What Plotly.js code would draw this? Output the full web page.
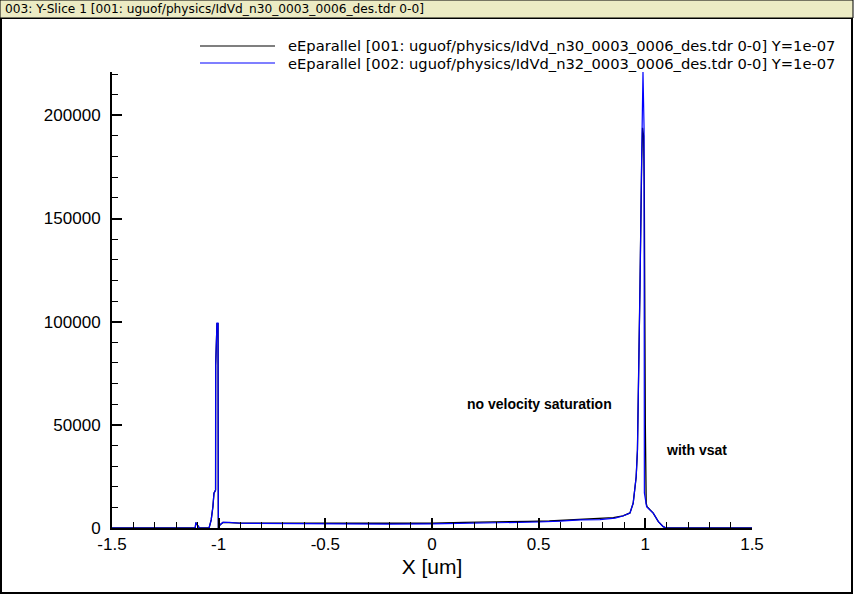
<!DOCTYPE html>
<html>
<head>
<meta charset="utf-8">
<script src="https://cdn.plot.ly/plotly-3.0.1.min.js"></script>
<style>
html,body{margin:0;padding:0;background:#fff;}
#chart{width:854px;height:595px;}
</style>
</head>
<body>
<div id="chart"></div>
<script>
// ---- data ----
var seriesNames = [
  "eEparallel [001: uguof/physics/IdVd_n30_0003_0006_des.tdr 0-0] Y=1e-07",
  "eEparallel [002: uguof/physics/IdVd_n32_0003_0006_des.tdr 0-0] Y=1e-07"
];
var windowTitle = "003: Y-Slice 1 [001: uguof/physics/IdVd_n30_0003_0006_des.tdr 0-0]";

var xBlack = [-1.5, -1.11, -1.107, -1.098, -1.09, -1.045, -1.035, -1.027, -1.022, -1.0145, -1.014, -1.008, -1.003, -1.0015,
  -0.994, -0.98, -0.95, -0.9, -0.6, -0.35, -0.15, 0, 0.15, 0.3, 0.45, 0.55, 0.65, 0.75, 0.85, 0.895, 0.928, 0.943, 0.957,
  0.963, 0.969, 0.975, 0.983, 0.987, 0.992, 0.995, 1.0, 1.004, 1.008, 1.022, 1.037, 1.061, 1.084, 1.097, 1.5];
var yBlack = [0, 0, 2600, 1200, 0, 0, 3900, 10300, 16900, 18400, 78900, 99000, 99000, 0,
  1500, 2700, 2700, 2400, 2300, 2300, 2300, 2300, 2700, 2800, 3200, 3400, 3900, 4300, 5000, 5900, 7300, 12000, 24700,
  37700, 70200, 118000, 178000, 194000, 190000, 166000, 50000, 12000, 10300, 8700, 7200, 3100, 650, 0, 0];

var xBlue = [-1.5, -1.11, -1.107, -1.098, -1.09, -1.045, -1.035, -1.027, -1.022, -1.0145, -1.014, -1.008, -1.003, -1.0015,
  -0.994, -0.98, -0.95, -0.9, -0.8, -0.6, -0.4, -0.2, 0, 0.2, 0.4, 0.5, 0.6, 0.694, 0.7875, 0.858, 0.895, 0.928, 0.943,
  0.957, 0.963, 0.969, 0.975, 0.983, 0.989, 0.994, 0.9955, 1.006, 1.022, 1.037, 1.061, 1.084, 1.097, 1.5];
var yBlue = [0, 0, 2600, 1200, 0, 0, 3900, 10300, 16900, 18400, 78900, 99300, 99300, 0,
  1500, 2700, 2700, 2300, 2200, 2100, 2000, 1900, 2000, 2300, 2700, 2900, 3300, 3900, 4100, 4800, 5800, 7200, 12000,
  24700, 37700, 70200, 116700, 181600, 221000, 194000, 17000, 10300, 8700, 7200, 3100, 650, 0, 0];

var xTickVals = [-1.5, -1, -0.5, 0, 0.5, 1, 1.5];
var xTickText = ["-1.5", "-1", "-0.5", "0", "0.5", "1", "1.5"];
var yTickVals = [0, 50000, 100000, 150000, 200000];
var yTickText = ["0", "50000", "100000", "150000", "200000"];
var noteTexts = ["no velocity saturation", "with vsat"];
var noteX = [0.506, 1.24];
var noteY = [60000, 38000];

// ---- layout helpers (pixel -> paper) ----
var L = 112, R = 752, T = 72, B = 528;
function px(x){ return (x - L) / (R - L); }
function py(y){ return (B - y) / (B - T); }

var traces = [
  {x: xBlack, y: yBlack, type: 'scatter', mode: 'lines', name: seriesNames[0], showlegend: false,
   line: {color: '#000000', width: 1.3}},
  {x: xBlue, y: yBlue, type: 'scatter', mode: 'lines', name: seriesNames[1], showlegend: false,
   line: {color: '#0000ff', width: 1.2}}
];

var tickFont = {family: 'Liberation Sans, Arial, sans-serif', size: 17, color: '#000'};

var layout = {
  width: 854, height: 595,
  margin: {l: L, r: 854 - R, t: T, b: 595 - B, pad: 0},
  paper_bgcolor: '#ffffff', plot_bgcolor: '#ffffff',
  showlegend: false,
  xaxis: {
    range: [-1.5, 1.5], showgrid: false, zeroline: false,
    showline: true, linecolor: '#000', linewidth: 2,
    ticks: 'inside', ticklen: 10, tickwidth: 2, tickcolor: '#000',
    tickvals: xTickVals, ticktext: xTickText, tickfont: tickFont,
    minor: {dtick: 0.1, ticks: 'inside', ticklen: 6, tickwidth: 1, tickcolor: '#000', showgrid: false},
    title: {text: 'X [um]', font: {family: 'Liberation Sans, Arial, sans-serif', size: 21, color: '#000'}, standoff: 6}
  },
  yaxis: {
    range: [0, 221000], showgrid: false, zeroline: false,
    showline: true, linecolor: '#000', linewidth: 2,
    ticks: 'inside', ticklen: 10, tickwidth: 2, tickcolor: '#000',
    tickvals: yTickVals, ticktext: yTickText, tickfont: tickFont,
    minor: {dtick: 10000, ticks: 'inside', ticklen: 6, tickwidth: 1, tickcolor: '#000', showgrid: false},
    ticklabelstandoff: 6
  },
  shapes: [
    // window frame
    {type: 'rect', xref: 'paper', yref: 'paper', x0: px(1), x1: px(852), y0: py(593), y1: py(18),
     line: {color: '#000', width: 2}, fillcolor: 'rgba(0,0,0,0)', layer: 'below'},
    // title bar
    {type: 'rect', xref: 'paper', yref: 'paper', x0: px(0), x1: px(853), y0: py(18), y1: py(0),
     line: {color: '#000', width: 1}, fillcolor: '#ecebc4', layer: 'below'},
    // legend lines
    {type: 'line', xref: 'paper', yref: 'paper', x0: px(200), x1: px(275), y0: py(46), y1: py(46),
     line: {color: '#000000', width: 1.2}},
    {type: 'line', xref: 'paper', yref: 'paper', x0: px(200), x1: px(275), y0: py(63), y1: py(63),
     line: {color: '#0000ff', width: 1.2}}
  ],
  annotations: [
    {xref: 'paper', yref: 'paper', x: px(3), y: py(9), xanchor: 'left', yanchor: 'middle', showarrow: false,
     text: windowTitle, font: {family: 'DejaVu Sans, sans-serif', size: 12.2, color: '#000'}},
    {xref: 'paper', yref: 'paper', x: px(286), y: py(46), xanchor: 'left', yanchor: 'middle', showarrow: false,
     text: seriesNames[0], font: {family: 'DejaVu Sans, sans-serif', size: 14.7, color: '#000'}},
    {xref: 'paper', yref: 'paper', x: px(286), y: py(63), xanchor: 'left', yanchor: 'middle', showarrow: false,
     text: seriesNames[1], font: {family: 'DejaVu Sans, sans-serif', size: 14.7, color: '#000'}},
    {xref: 'x', yref: 'y', x: noteX[0], y: noteY[0], xanchor: 'center', yanchor: 'middle', showarrow: false,
     text: noteTexts[0], font: {family: 'Liberation Sans, Arial, sans-serif', size: 14, color: '#000', weight: 'bold'}},
    {xref: 'x', yref: 'y', x: noteX[1], y: noteY[1], xanchor: 'center', yanchor: 'middle', showarrow: false,
     text: noteTexts[1], font: {family: 'Liberation Sans, Arial, sans-serif', size: 14, color: '#000', weight: 'bold'}}
  ]
};

Plotly.newPlot('chart', traces, layout, {staticPlot: true, displayModeBar: false});
</script>
</body>
</html>
